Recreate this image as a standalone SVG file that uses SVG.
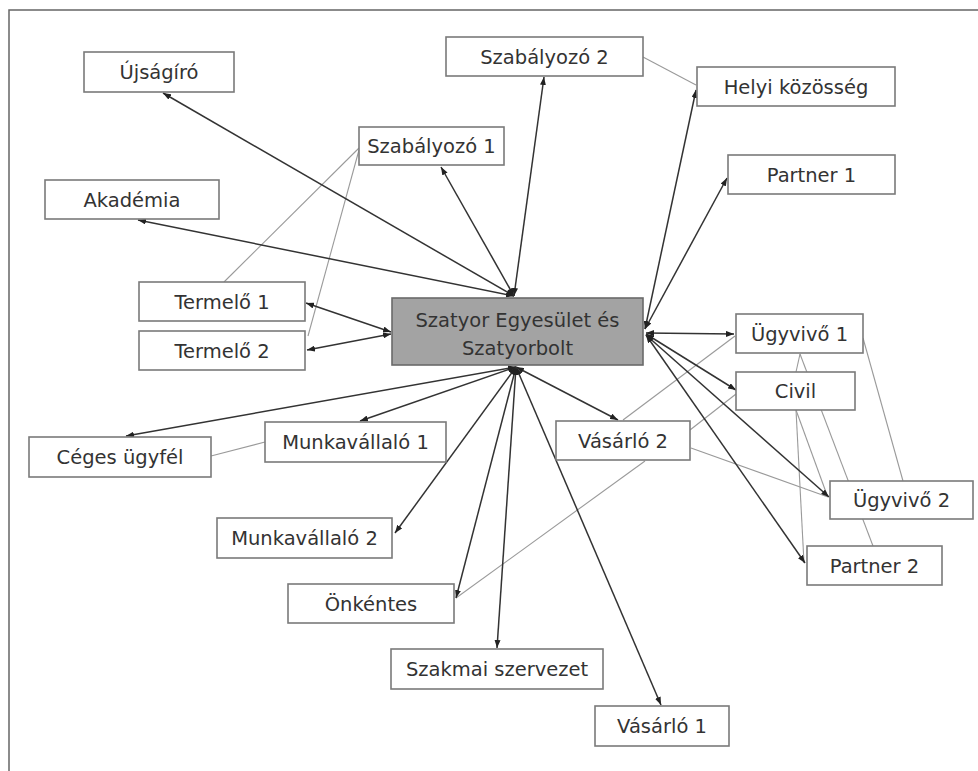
<svg xmlns="http://www.w3.org/2000/svg" width="978" height="771" viewBox="0 0 978 771">
<style>
.box{fill:#fff;stroke:#7a7a7a;stroke-width:1.6}
.main{fill:#a3a3a3;stroke:#6a6a6a;stroke-width:1.6}
.lbl{font-family:"DejaVu Sans","Liberation Sans",sans-serif;font-size:19.5px;fill:#333;text-anchor:middle}
.arr{stroke:#333;stroke-width:1.5;fill:none;marker-end:url(#ah);marker-start:url(#ah)}
.thin{stroke:#9a9a9a;stroke-width:1.1;fill:none}
</style>
<defs>
<marker id="ah" viewBox="0 0 8 6" refX="8" refY="3" markerWidth="8" markerHeight="6" markerUnits="userSpaceOnUse" orient="auto-start-reverse">
<path d="M0,0 L8,3 L0,6 z" fill="#222"/>
</marker>
</defs>
<rect width="978" height="771" fill="#fff"/>
<path d="M9,771 V10 H978" fill="none" stroke="#666" stroke-width="1.5"/>
<g id="connectors">
<line class="thin" x1="359" y1="148" x2="224" y2="282"/>
<line class="thin" x1="359" y1="150" x2="308" y2="336"/>
<line class="thin" x1="643" y1="57" x2="696" y2="85"/>
<line class="thin" x1="211" y1="456" x2="265" y2="442"/>
<line class="thin" x1="623" y1="420" x2="735" y2="336"/>
<line class="thin" x1="690" y1="430" x2="736" y2="394"/>
<line class="thin" x1="691" y1="448" x2="828" y2="497"/>
<line class="thin" x1="645" y1="461" x2="456" y2="598"/>
<line class="thin" x1="800" y1="354" x2="796" y2="372"/>
<line class="thin" x1="800" y1="354" x2="873" y2="546"/>
<line class="thin" x1="796" y1="410" x2="827" y2="495"/>
<line class="thin" x1="796" y1="410" x2="804" y2="563"/>
<line class="thin" x1="863" y1="338" x2="903" y2="481"/>
<line class="arr" x1="514" y1="296" x2="163" y2="93"/>
<line class="arr" x1="514" y1="296" x2="138" y2="220"/>
<line class="arr" x1="514" y1="296" x2="441" y2="167"/>
<line class="arr" x1="514" y1="296" x2="544" y2="77"/>
<line class="arr" x1="645" y1="329" x2="696" y2="90"/>
<line class="arr" x1="645" y1="329" x2="727" y2="178"/>
<line class="arr" x1="646" y1="333" x2="734" y2="334"/>
<line class="arr" x1="646" y1="334" x2="736" y2="390"/>
<line class="arr" x1="646" y1="335" x2="829" y2="497"/>
<line class="arr" x1="646" y1="335" x2="805" y2="563"/>
<line class="arr" x1="516" y1="367" x2="618" y2="420"/>
<line class="arr" x1="516" y1="367" x2="661" y2="705"/>
<line class="arr" x1="516" y1="367" x2="497" y2="648"/>
<line class="arr" x1="516" y1="367" x2="456" y2="598"/>
<line class="arr" x1="516" y1="367" x2="395" y2="533"/>
<line class="arr" x1="516" y1="367" x2="360" y2="421"/>
<line class="arr" x1="516" y1="367" x2="126" y2="436"/>
<line class="arr" x1="391" y1="332" x2="306" y2="303"/>
<line class="arr" x1="391" y1="334" x2="307" y2="350"/>
</g>
<g id="n-ujsagiro"><rect class="box" x="84" y="52" width="150" height="40"/><text class="lbl" x="159" y="79">Újságíró</text></g>
<g id="n-szabalyozo1"><rect class="box" x="359" y="127" width="145" height="38"/><text class="lbl" x="431.5" y="153">Szabályozó 1</text></g>
<g id="n-akademia"><rect class="box" x="45" y="180" width="174" height="39"/><text class="lbl" x="132" y="206.5">Akadémia</text></g>
<g id="n-termelo1"><rect class="box" x="139" y="282" width="166" height="39"/><text class="lbl" x="222" y="308.5">Termelő 1</text></g>
<g id="n-termelo2"><rect class="box" x="139" y="331" width="166" height="39"/><text class="lbl" x="222" y="357.5">Termelő 2</text></g>
<g id="n-main"><rect class="main" x="392" y="298" width="251" height="67"/><text class="lbl" x="517.5" y="327">Szatyor Egyesület és</text><text class="lbl" x="517.5" y="355">Szatyorbolt</text></g>
<g id="n-szabalyozo2"><rect class="box" x="446" y="37" width="197" height="39"/><text class="lbl" x="544.5" y="63.5">Szabályozó 2</text></g>
<g id="n-helyi"><rect class="box" x="697" y="67" width="198" height="39"/><text class="lbl" x="796" y="93.5">Helyi közösség</text></g>
<g id="n-partner1"><rect class="box" x="728" y="155" width="167" height="39"/><text class="lbl" x="811.5" y="181.5">Partner 1</text></g>
<g id="n-ugyvivo1"><rect class="box" x="736" y="314" width="127" height="39"/><text class="lbl" x="799.5" y="340.5">Ügyvivő 1</text></g>
<g id="n-civil"><rect class="box" x="736" y="372" width="119" height="38"/><text class="lbl" x="795.5" y="397.5">Civil</text></g>
<g id="n-vasarlo2"><rect class="box" x="556" y="421" width="134" height="39"/><text class="lbl" x="623" y="447.5">Vásárló 2</text></g>
<g id="n-ugyvivo2"><rect class="box" x="830" y="481" width="143" height="38"/><text class="lbl" x="901.5" y="506.5">Ügyvivő 2</text></g>
<g id="n-partner2"><rect class="box" x="807" y="546" width="135" height="39"/><text class="lbl" x="874.5" y="572.5">Partner 2</text></g>
<g id="n-szakmai"><rect class="box" x="391" y="649" width="212" height="40"/><text class="lbl" x="497" y="676">Szakmai szervezet</text></g>
<g id="n-vasarlo1"><rect class="box" x="595" y="706" width="134" height="40"/><text class="lbl" x="662" y="733">Vásárló 1</text></g>
<g id="n-ceges"><rect class="box" x="29" y="437" width="182" height="40"/><text class="lbl" x="120" y="464">Céges ügyfél</text></g>
<g id="n-munka1"><rect class="box" x="265" y="422" width="181" height="40"/><text class="lbl" x="355.5" y="449">Munkavállaló 1</text></g>
<g id="n-munka2"><rect class="box" x="217" y="518" width="175" height="40"/><text class="lbl" x="304.5" y="545">Munkavállaló 2</text></g>
<g id="n-onkentes"><rect class="box" x="288" y="584" width="166" height="39"/><text class="lbl" x="371" y="610.5">Önkéntes</text></g>
</svg>
